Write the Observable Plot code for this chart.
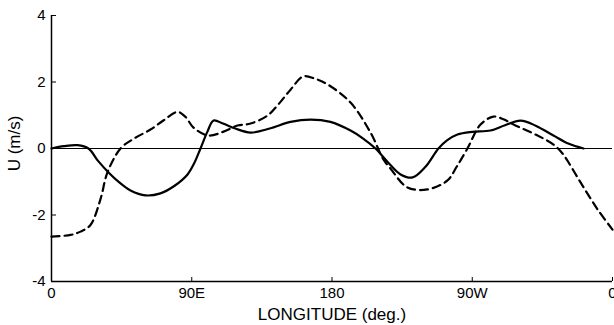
<!DOCTYPE html>
<html>
<head>
<meta charset="utf-8">
<script src="https://cdn.jsdelivr.net/npm/d3@7"></script>
<script src="https://cdn.jsdelivr.net/npm/@observablehq/plot@0.6"></script>
<style>
  html, body { margin: 0; padding: 0; background: #fff; }
  #chart svg { overflow: visible; }
</style>
</head>
<body>
<div id="chart"></div>
<script>
// Longitude (deg east from 0 to 360) and U (m/s)
const solidLon = [0, 8, 16.7, 23.7, 30, 36.6, 43.5, 50.7, 60.3, 69.9, 79, 87.3, 91.5, 95.6, 100, 104, 110, 118, 127.7, 140, 153.4, 166.2, 179, 191.9, 200, 207.9, 216, 224, 231.7, 240, 248.3, 254, 260.5, 270, 281.7, 291, 301, 311, 322.1, 332, 341.4];
const solidU   = [0, 0.07, 0.1, 0, -0.38, -0.72, -1.02, -1.26, -1.41, -1.35, -1.12, -0.78, -0.45, 0, 0.5, 0.84, 0.75, 0.6, 0.48, 0.6, 0.8, 0.87, 0.8, 0.54, 0.3, 0, -0.42, -0.78, -0.87, -0.55, 0, 0.25, 0.42, 0.5, 0.54, 0.7, 0.84, 0.68, 0.39, 0.14, 0];

const dashLon = [0, 12.2, 18.6, 25, 31.4, 35.9, 44.3, 53, 63.5, 72, 80.9, 86, 91.1, 100.7, 110, 119.4, 127.7, 138.6, 146, 153.4, 161.7, 169, 177.1, 191.9, 204.7, 213, 217.5, 228.4, 241.3, 254.1, 260, 266.9, 275.3, 283.6, 290, 296.5, 311.9, 322.1, 327.9, 339.5, 350.4, 360];
const dashU   = [-2.65, -2.6, -2.5, -2.3, -1.53, -0.72, 0, 0.3, 0.57, 0.85, 1.1, 0.95, 0.63, 0.39, 0.5, 0.69, 0.75, 0.99, 1.35, 1.77, 2.17, 2.1, 1.93, 1.38, 0.48, -0.33, -0.6, -1.17, -1.23, -0.96, -0.55, 0, 0.72, 0.96, 0.88, 0.72, 0.39, 0.12, -0.15, -1.02, -1.83, -2.44];

const xTicks = [0, 90, 180, 270, 360];
const xTickLabels = ["0", "90E", "180", "90W", "0"];
const yTicks = [-4, -2, 0, 2, 4];
const yLabel = "U (m/s)";
const xLabel = "LONGITUDE (deg.)";

const solid = solidLon.map((lon, i) => ({lon, u: solidU[i]}));
const dashed = dashLon.map((lon, i) => ({lon, u: dashU[i]}));

const font = "'Liberation Sans', Arial, Helvetica, sans-serif";

const chart = Plot.plot({
  width: 614,
  height: 325,
  marginLeft: 51,
  marginRight: 2,
  marginTop: 15,
  marginBottom: 44,
  style: {fontFamily: font, fontSize: "15px", color: "#000", background: "#fff", overflow: "visible"},
  x: {domain: [0, 360]},
  y: {domain: [-4, 4]},
  marks: [
    Plot.ruleY([0], {stroke: "#000", strokeWidth: 1}),
    Plot.ruleX([0], {stroke: "#000", strokeWidth: 1.5}),
    Plot.ruleY([-4], {stroke: "#000", strokeWidth: 1.5}),
    Plot.axisY({ticks: yTicks, tickSize: -5, tickPadding: 11, label: null, fontSize: 15, tickFormat: d => String(d)}),
    Plot.axisX({ticks: xTicks, tickSize: -4, tickPadding: 10, label: null, fontSize: 15,
      tickFormat: d => xTickLabels[xTicks.indexOf(d)]}),
    Plot.line(solid, {x: "lon", y: "u", curve: "catmull-rom", stroke: "#000", strokeWidth: 2.2}),
    Plot.line(dashed, {x: "lon", y: "u", curve: "catmull-rom", stroke: "#000", strokeWidth: 2.2, strokeDasharray: "8,5"}),
    Plot.text([yLabel], {frameAnchor: "left", dx: -37, dy: -5, rotate: -90, fontSize: 17, textAnchor: "middle", lineAnchor: "middle"}),
    Plot.text([xLabel], {frameAnchor: "bottom", dy: 33, fontSize: 17, textAnchor: "middle", lineAnchor: "middle", letterSpacing: "0.5px"})
  ]
});
document.getElementById("chart").appendChild(chart);
</script>
</body>
</html>
